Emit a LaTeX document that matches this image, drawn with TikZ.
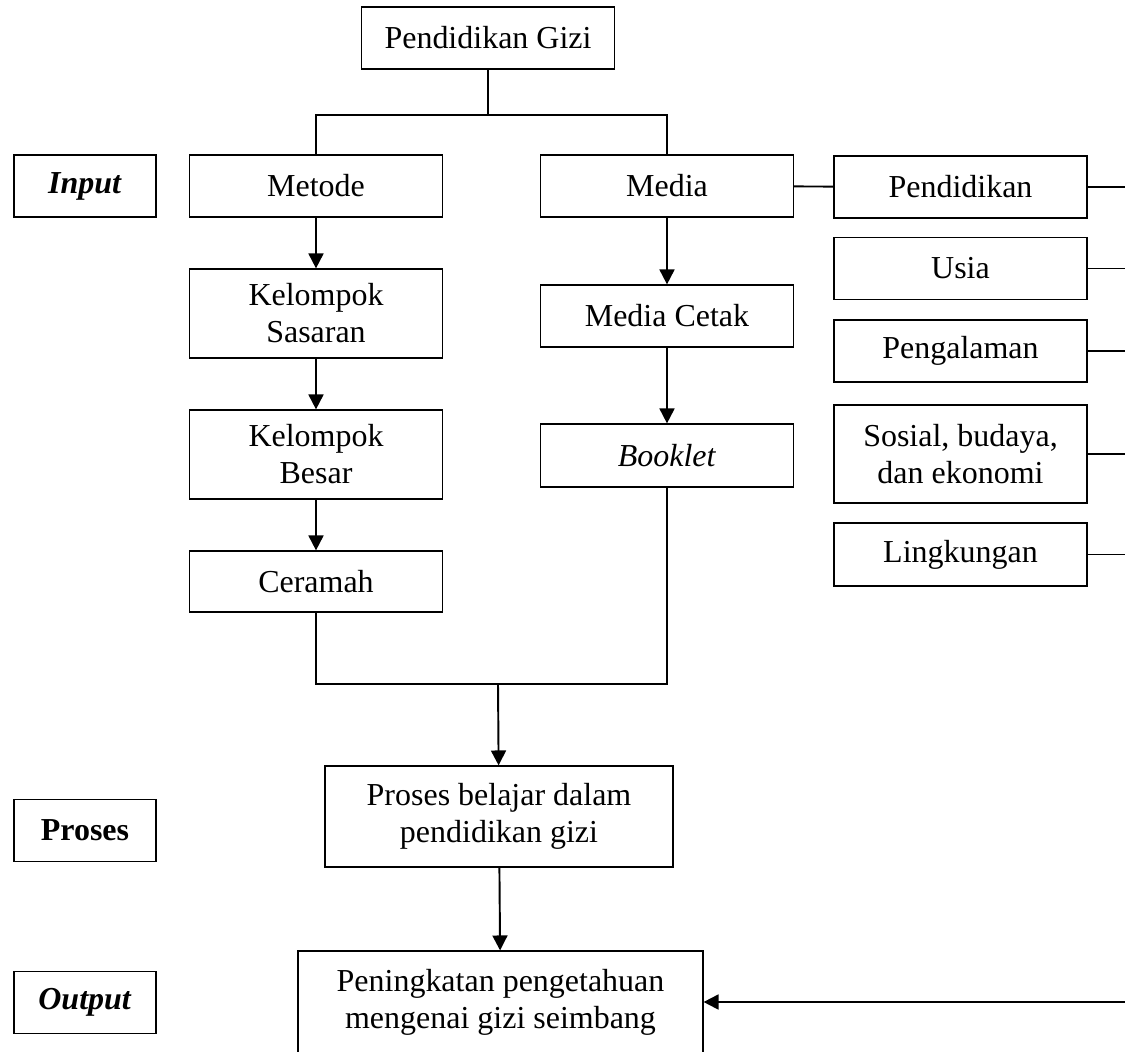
\documentclass[tikz,border=0pt]{standalone}
\usepackage{fontspec}
\setmainfont{Liberation Serif}
\usetikzlibrary{arrows.meta}
\tikzset{every picture/.style={x=0.02cm,y=-0.02cm}}
\tikzset{box/.style={draw,rectangle,line width=0.7pt,inner sep=2pt,align=center,minimum width=5.06cm,minimum height=1.24cm,font=\fontsize{18.2}{21}\selectfont}}
\tikzset{tag/.style={box,minimum width=2.84cm}}
\tikzset{tall/.style={minimum height=1.78cm}}
\tikzset{link/.style={line width=1.1pt}}
\tikzset{edge/.style={link,-{Triangle[length=8.5pt,width=8.5pt]}}}

\begin{document}
\begin{tikzpicture}
\useasboundingbox (0,0) rectangle (1125,1051);
\clip (0,0) rectangle (1125,1051);

\node [box] (gizi) at (488,38) {Pendidikan Gizi};

\node [tag] (inp) at (85,186) {\textbf{\textit{Input}}};
\node [tag] (prosl) at (85,830.5) {\textbf{Proses}};
\node [tag] (outl) at (85,1002.5) {\textbf{\textit{Output}}};

\node [box] (metode) at (316,186) {Metode};
\node [box,tall] (sasar) at (316,313.5) {Kelompok\\Sasaran};
\node [box,tall] (besar) at (316,454.5) {Kelompok\\Besar};
\node [box,minimum height=1.22cm] (ceramah) at (316,581.5) {Ceramah};

\node [box] (media) at (667,186) {Media};
\node [box] (cetak) at (667,316) {Media Cetak};
\node [box,minimum height=1.26cm] (booklet) at (667,455.5) {\textit{Booklet}};

\node [box] (pend) at (960.5,187) {Pendidikan};
\node [box] (usia) at (960.5,268.5) {Usia};
\node [box] (alam) at (960.5,351) {Pengalaman};
\node [box,minimum height=1.96cm] (sosek) at (960.5,454) {Sosial, budaya,\\dan ekonomi};
\node [box,minimum height=1.26cm] (ling) at (960.5,554.5) {Lingkungan};

\node [box,minimum width=6.96cm,minimum height=2.02cm] (proses) at (499,816.5) {Proses belajar dalam\\pendidikan gizi};
\node [box,minimum width=8.1cm,minimum height=2.04cm] (hasil) at (500.5,1002) {Peningkatan pengetahuan\\mengenai gizi seimbang};

\coordinate (b1) at (488,115);
\coordinate (b2) at (498,684);
\coordinate (r1) at (1125,187);
\coordinate (r2) at (1125,268.5);
\coordinate (r3) at (1125,351);
\coordinate (r4) at (1125,454);
\coordinate (r5) at (1125,554.5);
\coordinate (r6) at (1125,1002);

\draw [link] (gizi) -- (b1);
\draw [link] (metode.north) |- (b1) -| (media.north);

\draw [edge] (metode) -- (sasar);
\draw [edge] (sasar) -- (besar);
\draw [edge] (besar) -- (ceramah);

\draw [edge] (media) -- (cetak);
\draw [edge] (cetak) -- (booklet);

\draw [link] (ceramah.south) |- (b2) -| (booklet.south);
\draw [edge] (b2) -- (proses);
\draw [edge] (proses) -- (hasil);

\draw [link] (media) -- (pend);
\draw [link] (pend) -- (r1);
\draw [link] (usia) -- (r2);
\draw [link] (alam) -- (r3);
\draw [link] (sosek) -- (r4);
\draw [link] (ling) -- (r5);

\draw [edge] (r6) -- (hasil);
\end{tikzpicture}
\end{document}
